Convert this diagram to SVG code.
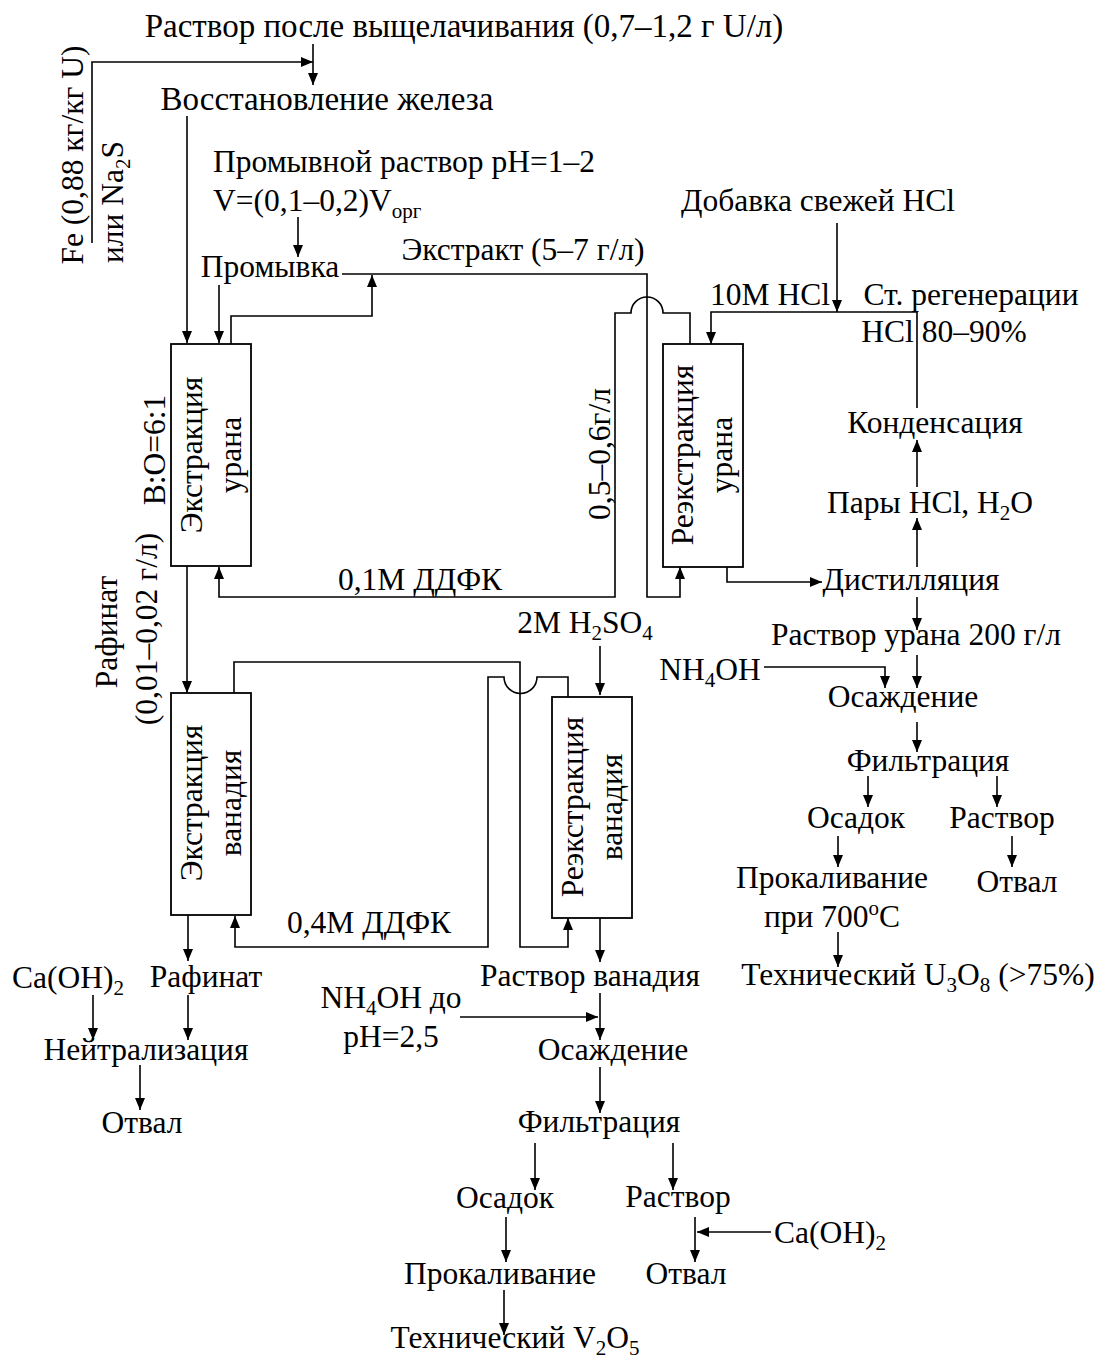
<svg xmlns="http://www.w3.org/2000/svg" width="1099" height="1362" viewBox="0 0 1099 1362">
<style>
text { font-family: "Liberation Serif", "Times New Roman", serif; font-size: 31.5px; fill: #000; }
.m { text-anchor: middle; }
.s { font-size: 21px; }
.big { font-size: 33px; }
.ln { fill: none; stroke: #000; stroke-width: 1.6; }
.a { marker-end: url(#ah); }
.box { fill: #fff; stroke: #000; stroke-width: 1.8; }
</style>
<defs>
<marker id="ah" viewBox="0 0 12 10" refX="12" refY="5" markerWidth="12" markerHeight="10" markerUnits="userSpaceOnUse" orient="auto">
<path d="M0,0 L12,5 L0,10 z" fill="#000"/>
</marker>
</defs>
<rect width="1099" height="1362" fill="#fff"/>

<g id="connectors">
<polyline class="ln a" points="92,243 92,62 313,62"/>
<line class="ln a" x1="313" y1="44" x2="313" y2="85"/>
<line class="ln a" x1="187" y1="116" x2="187" y2="343"/>
<line class="ln a" x1="298" y1="217" x2="298" y2="257"/>
<line class="ln a" x1="219" y1="285" x2="219" y2="343"/>
<polyline class="ln a" points="231,344 231,316 372,316 372,275"/>
<polyline class="ln a" points="342,274 647,274 647,597 680,597 680,567"/>
<path class="ln a" d="M690,344 L690,313 L663,313 A16,16 0 0 0 631,313 L615,313 L615,597 L219,597 L219,567"/>
<line class="ln a" x1="837" y1="223" x2="837" y2="312"/>
<polyline class="ln a" points="917,408 917,312 711,312 711,344"/>
<line class="ln a" x1="917" y1="487" x2="917" y2="440"/>
<line class="ln a" x1="917" y1="567" x2="917" y2="518"/>
<polyline class="ln a" points="727,567 727,582 822,582"/>
<line class="ln a" x1="917" y1="597" x2="917" y2="630"/>
<line class="ln a" x1="917" y1="655" x2="917" y2="688"/>
<polyline class="ln a" points="764,667 885,667 885,688"/>
<line class="ln a" x1="917" y1="722" x2="917" y2="752"/>
<line class="ln a" x1="868" y1="776" x2="868" y2="807"/>
<line class="ln a" x1="997" y1="776" x2="997" y2="807"/>
<line class="ln a" x1="838" y1="836" x2="838" y2="867"/>
<line class="ln a" x1="1012" y1="836" x2="1012" y2="867"/>
<line class="ln a" x1="838" y1="932" x2="838" y2="967"/>
<line class="ln a" x1="187" y1="566" x2="187" y2="693"/>
<polyline class="ln a" points="234,693 234,662 520,662 520,947 568,947 568,918"/>
<path class="ln a" d="M568,697 L568,677 L537,677 A16.5,16.5 0 0 1 504,677 L488,677 L488,947 L235,947 L235,916"/>
<line class="ln a" x1="600" y1="646" x2="600" y2="695"/>
<line class="ln a" x1="600" y1="918" x2="600" y2="962"/>
<line class="ln a" x1="188" y1="915" x2="188" y2="961"/>
<line class="ln a" x1="93" y1="995" x2="93" y2="1040"/>
<line class="ln a" x1="188" y1="995" x2="188" y2="1040"/>
<line class="ln a" x1="140" y1="1065" x2="140" y2="1110"/>
<line class="ln a" x1="600" y1="993" x2="600" y2="1040"/>
<line class="ln a" x1="460" y1="1017" x2="598" y2="1017"/>
<line class="ln a" x1="600" y1="1067" x2="600" y2="1113"/>
<line class="ln a" x1="535" y1="1143" x2="535" y2="1190"/>
<line class="ln a" x1="673" y1="1143" x2="673" y2="1190"/>
<line class="ln a" x1="506" y1="1217" x2="506" y2="1262"/>
<line class="ln a" x1="695" y1="1217" x2="695" y2="1262"/>
<line class="ln a" x1="771" y1="1232" x2="697" y2="1232"/>
<line class="ln a" x1="504" y1="1290" x2="504" y2="1335"/>
</g>

<g id="leach-solution"><text class="m big" x="464" y="37">Раствор после выщелачивания (0,7–1,2 г U/л)</text></g>
<g id="fe-reagent">
<text class="m" transform="translate(83,155) rotate(-90)">Fe (0,88 кг/кг U)</text>
<text class="m" transform="translate(123,202) rotate(-90)">или Na<tspan class="s" dy="7">2</tspan><tspan dy="-7">S</tspan></text>
</g>
<g id="iron-reduction"><text class="m big" x="327" y="110">Восстановление железа</text></g>
<g id="wash-solution">
<text x="213" y="172">Промывной раствор pH=1–2</text>
<text x="213" y="211">V=(0,1–0,2)V<tspan class="s" dy="7">орг</tspan></text>
</g>
<g id="washing"><text class="m" x="270" y="277">Промывка</text></g>
<g id="extract-label"><text class="m" x="523" y="260">Экстракт (5–7 г/л)</text></g>
<g id="uranium-extraction">
<rect class="box" x="171" y="344" width="80" height="222"/>
<text class="m" transform="translate(202,455) rotate(-90)">Экстракция</text>
<text class="m" transform="translate(241,455) rotate(-90)">урана</text>
</g>
<g id="ratio-label"><text class="m" transform="translate(165,450) rotate(-90)">В:О=6:1</text></g>
<g id="raffinate-u-label">
<text class="m" transform="translate(117,632) rotate(-90)">Рафинат</text>
<text class="m" transform="translate(157,629) rotate(-90)">(0,01–0,02 г/л)</text>
</g>
<g id="ddfk-01"><text class="m" x="420" y="590">0,1М ДДФК</text></g>
<g id="conc-label"><text class="m" transform="translate(610,454) rotate(-90)">0,5–0,6г/л</text></g>
<g id="uranium-stripping">
<rect class="box" x="663" y="344" width="80" height="223"/>
<text class="m" transform="translate(693,455) rotate(-90)">Реэкстракция</text>
<text class="m" transform="translate(732,455) rotate(-90)">урана</text>
</g>
<g id="fresh-hcl"><text class="m" x="818" y="211">Добавка свежей HCl</text></g>
<g id="hcl-10m"><text class="m" x="770" y="305">10М HCl</text></g>
<g id="regeneration">
<text class="m" x="971" y="305">Ст. регенерации</text>
<text class="m" x="944" y="342">HCl 80–90%</text>
</g>
<g id="condensation"><text class="m" x="935" y="433">Конденсация</text></g>
<g id="vapors"><text class="m" x="930" y="513">Пары HCl, H<tspan class="s" dy="7">2</tspan><tspan dy="-7">O</tspan></text></g>
<g id="distillation"><text class="m" x="911" y="590">Дистилляция</text></g>
<g id="uranium-solution"><text class="m" x="916" y="645">Раствор урана 200 г/л</text></g>
<g id="nh4oh-u"><text class="m" x="710" y="680">NH<tspan class="s" dy="7">4</tspan><tspan dy="-7">OH</tspan></text></g>
<g id="precipitation-u"><text class="m" x="903" y="707">Осаждение</text></g>
<g id="filtration-u"><text class="m" x="928" y="771">Фильтрация</text></g>
<g id="precipitate-u"><text class="m" x="856" y="828">Осадок</text></g>
<g id="filtrate-u"><text class="m" x="1002" y="828">Раствор</text></g>
<g id="calcination-u">
<text class="m" x="832" y="888">Прокаливание</text>
<text class="m" x="832" y="927">при 700<tspan class="s" dy="-12">o</tspan><tspan dy="12">C</tspan></text>
</g>
<g id="dump-u"><text class="m" x="1017" y="892">Отвал</text></g>
<g id="u3o8"><text class="m" x="918" y="985">Технический U<tspan class="s" dy="7">3</tspan><tspan dy="-7">O</tspan><tspan class="s" dy="7">8</tspan><tspan dy="-7"> (&gt;75%)</tspan></text></g>
<g id="h2so4"><text class="m" x="585" y="633">2М H<tspan class="s" dy="7">2</tspan><tspan dy="-7">SO</tspan><tspan class="s" dy="7">4</tspan></text></g>
<g id="vanadium-extraction">
<rect class="box" x="171" y="693" width="80" height="222"/>
<text class="m" transform="translate(202,803) rotate(-90)">Экстракция</text>
<text class="m" transform="translate(241,803) rotate(-90)">ванадия</text>
</g>
<g id="ddfk-04"><text class="m" x="369" y="933">0,4М ДДФК</text></g>
<g id="vanadium-stripping">
<rect class="box" x="552" y="697" width="80" height="221"/>
<text class="m" transform="translate(583,807) rotate(-90)">Реэкстракция</text>
<text class="m" transform="translate(622,807) rotate(-90)">ванадия</text>
</g>
<g id="caoh2-left"><text class="m" x="68" y="988">Ca(OH)<tspan class="s" dy="7">2</tspan></text></g>
<g id="raffinate-v"><text class="m" x="206" y="987">Рафинат</text></g>
<g id="neutralization"><text class="m" x="146" y="1060">Нейтрализация</text></g>
<g id="dump-left"><text class="m" x="142" y="1133">Отвал</text></g>
<g id="vanadium-solution"><text class="m" x="590" y="986">Раствор ванадия</text></g>
<g id="nh4oh-v">
<text class="m" x="391" y="1008">NH<tspan class="s" dy="7">4</tspan><tspan dy="-7">OH до</tspan></text>
<text class="m" x="391" y="1047">pH=2,5</text>
</g>
<g id="precipitation-v"><text class="m" x="613" y="1060">Осаждение</text></g>
<g id="filtration-v"><text class="m" x="599" y="1132">Фильтрация</text></g>
<g id="precipitate-v"><text class="m" x="505" y="1208">Осадок</text></g>
<g id="filtrate-v"><text class="m" x="678" y="1207">Раствор</text></g>
<g id="caoh2-right"><text class="m" x="830" y="1243">Ca(OH)<tspan class="s" dy="7">2</tspan></text></g>
<g id="calcination-v"><text class="m" x="500" y="1284">Прокаливание</text></g>
<g id="dump-v"><text class="m" x="686" y="1284">Отвал</text></g>
<g id="v2o5"><text class="m" x="515" y="1348">Технический V<tspan class="s" dy="7">2</tspan><tspan dy="-7">O</tspan><tspan class="s" dy="7">5</tspan></text></g>
</svg>
